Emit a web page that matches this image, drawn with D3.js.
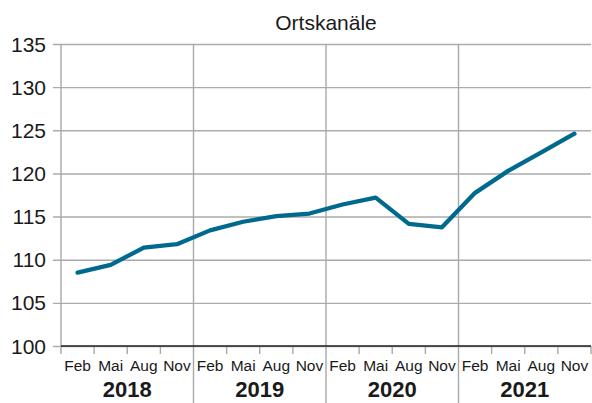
<!DOCTYPE html>
<meta charset="utf-8">
<script src="https://d3js.org/d3.v7.min.js"></script>
<style>
  body { margin: 0; background: #fff; }
  text { font-family: "Liberation Sans", Arial, sans-serif; fill: #1a1a1a; }
</style>
<div id="chart"></div>
<script>

// data
var years = ["2018", "2019", "2020", "2021"];
var months = ["Feb", "Mai", "Aug", "Nov"];
var values = [108.5, 109.4, 111.4, 111.8,
              113.4, 114.4, 115.05, 115.35,
              116.4, 117.2, 114.15, 113.75,
              117.75, 120.3, 122.45, 124.6];
var yTicks = [100, 105, 110, 115, 120, 125, 130, 135];

var width = 592, height = 403;
var plotLeft = 61, plotRight = 591, plotTop = 44, plotBottom = 346;

var svg = d3.select("#chart").append("svg")
    .attr("width", width)
    .attr("height", height);

// scales
var x = d3.scaleLinear().domain([0, values.length]).range([plotLeft, plotRight]);
var y = d3.scaleLinear().domain([100, 135]).range([plotBottom, plotTop]);

// horizontal grid lines, they stick out a bit on the left like ticks
svg.append("g")
    .attr("transform", `translate(${plotLeft}, 0)`)
    .call(d3.axisLeft(y).tickValues(yTicks).tickSize(-(plotRight - plotLeft)).tickFormat(""))
    .call(g => g.select(".domain").remove())
    .call(g => g.selectAll(".tick line")
        .attr("x1", -8)
        .attr("stroke", "#ababab")
        .attr("stroke-width", 1.4));

// y labels
svg.append("g")
    .selectAll("text")
    .data(yTicks)
    .join("text")
    .attr("x", 46)
    .attr("y", d => y(d))
    .attr("dy", "0.36em")
    .attr("text-anchor", "end")
    .style("font-size", "21px")
    .text(d => d);

// vertical lines: left frame + year dividers
svg.append("g")
    .selectAll("line")
    .data(d3.range(0, years.length))
    .join("line")
    .attr("x1", i => x(i * 4))
    .attr("x2", i => x(i * 4))
    .attr("y1", plotTop)
    .attr("y2", i => i === 0 ? plotBottom + 8 : height)
    .attr("stroke", "#a8a8a8")
    .attr("stroke-width", 1.4);

// small quarter ticks below the axis
svg.append("g")
    .selectAll("line")
    .data(d3.range(1, values.length + 1).filter(i => i % 4 !== 0 || i === values.length))
    .join("line")
    .attr("x1", i => x(i))
    .attr("x2", i => x(i))
    .attr("y1", plotBottom)
    .attr("y2", plotBottom + 8)
    .attr("stroke", "#a8a8a8")
    .attr("stroke-width", 1.4);

// bottom axis line
svg.append("line")
    .attr("x1", plotLeft).attr("x2", plotRight)
    .attr("y1", plotBottom).attr("y2", plotBottom)
    .attr("stroke", "#222")
    .attr("stroke-width", 1.6);

// month labels
svg.append("g")
    .selectAll("text")
    .data(values)
    .join("text")
    .attr("x", (d, i) => x(i + 0.5))
    .attr("y", 371)
    .attr("text-anchor", "middle")
    .style("font-size", "15.5px")
    .text((d, i) => months[i % 4]);

// year labels
svg.append("g")
    .selectAll("text")
    .data(years)
    .join("text")
    .attr("x", (d, i) => x(i * 4 + 2))
    .attr("y", 397)
    .attr("text-anchor", "middle")
    .style("font-size", "22px")
    .style("font-weight", "bold")
    .text(d => d);

// title
svg.append("text")
    .attr("x", 326)
    .attr("y", 30)
    .attr("text-anchor", "middle")
    .style("font-size", "21px")
    .text("Ortskanäle");

// the line
var line = d3.line()
    .x((d, i) => x(i + 0.5))
    .y(d => y(d));

svg.append("path")
    .datum(values)
    .attr("d", line)
    .attr("fill", "none")
    .attr("stroke", "#006a8e")
    .attr("stroke-width", 4.3)
    .attr("stroke-linecap", "round")
    .attr("stroke-linejoin", "round");

</script>
